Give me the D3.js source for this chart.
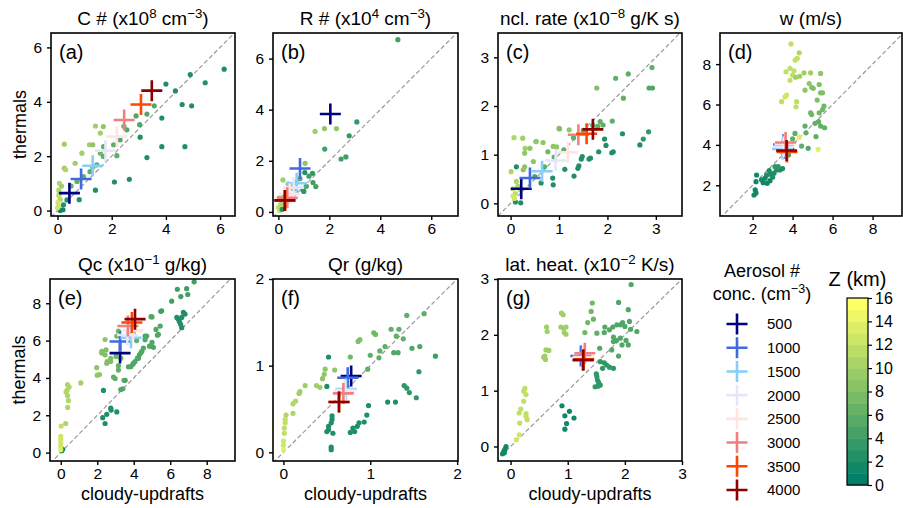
<!DOCTYPE html>
<html>
<head>
<meta charset="utf-8">
<script src="https://cdn.jsdelivr.net/npm/d3@7"></script>
<style>
  body { margin: 0; background: #fff; }
  svg { font-family: "Liberation Sans", Arial, sans-serif; }
</style>
</head>
<body>
<svg></svg>
<script>
// thermals vs cloudy-updrafts, one panel per variable

let width = 903,
    height = 508;

let svg = d3.select("svg")
    .attr("width", width)
    .attr("height", height);

let aerosolConc = [500, 1000, 1500, 2000, 2500, 3000, 3500, 4000];
let aerosolColors = ["#000080", "#4169e1", "#87cefa", "#e6e6fa", "#ffe4e1", "#f08080", "#ff4500", "#8b0000"];
let zTicks = [0, 2, 4, 6, 8, 10, 12, 14, 16];

// [cloudy-updrafts, thermals, Z km]
let pointsA = [
    [4.9,5.0,2],[4.0,4.65,2],[4.35,4.4,2],[5.45,4.7,2],[6.15,5.2,2],[4.6,3.9,2],[4.95,3.85,2],[3.85,3.4,2],
    [3.05,2.7,2],[3.85,2.35,2],[4.7,2.35,2],[3.3,1.95,2],[2.1,1.05,2],[2.65,1.15,2],[1.4,0.75,2],[0.8,0.4,2],
    [0.35,0.39,2],[0.2,0.03,1],[0.1,0.0,1],[0.22,0.21,2],
    [3.03,3.16,5],[2.9,3.48,5],[3.57,3.85,5],[2.56,2.97,5],[2.31,2.6,5],[2.19,2.02,6],[2.07,2.42,6],[1.7,2.35,6],
    [1.69,1.99,6],[1.45,1.68,6],[1.2,1.43,6],[0.96,1.25,6],[0.72,1.07,6],[0.5,0.9,6],[3.3,3.55,5],[2.45,3.1,6],
    [1.58,2.11,7],[1.3,1.6,6],
    [0.25,2.44,10],[1.4,3.11,10],[1.58,2.85,10],[1.69,3.09,9],[1.18,2.42,10],[1.3,2.42,9],[0.9,2.11,10],[0.65,1.74,10],
    [0.25,1.56,10],[0.3,1.5,11],[0.07,1.0,11],[0.05,0.75,11],[0.15,0.9,10],[0.1,0.4,11],[0.03,0.15,12],[0.06,0.6,11],
    [0.0,0.1,13],[0.02,0.3,13],[0.05,0.55,12]
];
let pointsB = [
    [4.69,6.74,4],[3.08,3.52,3],[2.78,2.98,3],[2.28,3.26,9],[1.81,3.26,9],[1.44,3.15,10],[1.82,2.46,4],[2.46,2.07,4],
    [2.65,2.15,4],[1.05,1.9,9],[1.04,1.54,2],[1.34,1.51,3],[1.2,1.4,4],[1.36,1.15,4],[1.47,0.99,4],[0.97,0.86,3],
    [1.0,0.8,3],[1.1,1.0,5],[0.18,1.25,10],[0.38,1.1,10],[0.55,1.05,9],[0.7,1.15,8],[0.04,0.55,11],[0.0,0.17,12],
    [0.05,0.05,12],[0.1,0.3,11],[0.2,0.6,10],[0.3,0.35,8],[0.15,0.1,2],[0.6,0.9,6],[0.85,1.3,6]
];
let pointsC = [
    [1.78,2.37,8],[2.17,2.57,6],[2.43,2.66,6],[2.33,2.16,6],[2.92,2.79,6],[2.86,2.37,5],[2.93,2.37,5],[2.1,1.69,6],
    [1.91,1.61,6],[1.8,1.58,6],
    [2.31,1.43,2],[2.85,1.47,3],[2.74,1.32,3],[2.67,1.2,2],[1.97,1.19,2],[1.82,1.06,2],[2.09,1.04,2],[2.12,1.06,2],
    [1.62,0.91,2],[1.48,0.96,2],[1.41,0.77,2],[1.31,0.56,2],[1.12,0.7,2],[0.88,0.38,2],[0.87,0.52,2],[0.63,0.42,2],
    [1.46,0.91,2],[1.65,0.93,2],[1.39,0.72,2],[1.94,1.32,2],[0.21,0.01,2],[0.1,0.03,2],[0.12,0.75,2],
    [1.0,1.54,9],[1.21,1.51,9],[0.88,1.17,9],[0.95,1.16,9],[0.52,1.27,10],[0.3,1.13,10],[0.07,1.35,11],[0.25,1.34,10],
    [0.53,1.27,9],[0.67,1.25,9],[0.4,1.13,9],[0.29,1.03,9],[0.47,0.86,9],[0.29,0.75,9],[0.01,0.65,11],[0.26,0.69,9],
    [0.77,1.06,7],[1.01,1.53,8],
    [0.05,0.3,12],[0.1,0.2,12],[0.05,0.15,13],[0.15,0.35,11],[0.08,0.1,13],[0.2,0.28,11],[0.12,0.45,11],
    [1.3,1.35,6],[1.5,1.5,6],[1.7,1.6,6],[1.85,1.68,6],[1.1,1.1,6],[0.9,0.95,6],[0.7,0.75,6],[0.5,0.55,5]
];
let pointsD = [
    [3.92,9.0,12],[4.33,8.56,11],[4.23,8.28,12],[4.13,8.2,12],[3.87,7.79,12],[3.67,7.62,12],[4.07,7.67,12],[4.0,7.45,12],
    [3.87,7.2,12],[3.62,6.38,13],[3.7,6.47,13],[3.45,6.14,12],[4.17,5.89,12],[4.2,6.14,12],[4.33,4.37,14],[5.28,3.78,14],
    [4.57,7.57,10],[4.9,7.57,10],[5.4,7.54,9],[4.35,7.4,10],[4.15,7.35,10],[4.83,7.04,9],[4.95,6.85,9],[4.62,6.71,9],
    [5.33,6.99,8],[5.03,6.8,8],[5.4,6.58,8],[5.5,6.58,8],[5.23,6.22,8],
    [5.57,5.92,7],[4.9,5.59,7],[4.95,5.5,7],[5.33,5.59,7],[5.5,5.75,7],[5.12,5.07,6],[5.3,5.15,6],[4.62,4.93,6],
    [5.4,4.93,6],[5.6,4.85,6],[4.67,4.6,6],[5.17,4.41,6],[4.12,4.57,6],[4.45,3.94,6],[4.78,3.83,5],[3.53,3.58,5],
    [3.8,3.5,5],[4.0,4.3,6],
    [3.37,2.76,2],[3.5,2.83,2],[3.2,2.76,2],[3.07,2.6,2],[2.83,2.73,2],[2.7,2.5,2],[2.62,2.35,1],[2.73,2.1,1],
    [2.87,2.23,1],[2.53,2.13,1],[2.45,2.27,1],[2.2,2.51,1],[2.17,2.18,1],[2.13,1.77,1],[2.07,1.52,1],[2.17,1.62,1],
    [3.12,2.92,3],[3.28,2.92,3],[2.9,2.55,2],[3.0,2.4,2]
];
let pointsE = [
    [7.31,9.15,4],[6.9,8.78,4],[6.39,8.75,4],[6.96,8.47,4],[6.58,8.36,4],[6.08,8.11,4],[5.53,7.6,4],[5.48,7.57,4],
    [5.0,7.27,5],[4.95,7.28,5],[5.45,6.78,5],[5.3,6.29,5],[5.22,6.6,5],[5.35,6.33,5],
    [6.72,7.51,2],[6.63,7.24,2],[6.36,7.24,2],[6.5,7.02,2],[6.57,6.87,2],[6.63,6.69,2],[6.81,7.42,2],[6.45,7.15,2],
    [4.62,6.05,5],[4.71,6.24,5],[4.99,5.69,5],[4.53,5.6,5],[4.86,5.7,5],[5.08,5.64,5],[4.44,5.42,5],[4.31,5.24,5],
    [4.2,5.06,5],[4.07,4.88,5],[3.95,4.73,5],[3.84,4.6,5],[4.38,5.33,5],[4.26,5.05,5],[3.98,4.78,5],[3.71,4.6,5],
    [3.16,4.65,6],[2.89,4.05,6],[3.53,3.87,5],[3.29,3.38,5],[3.47,3.87,5],[3.4,3.42,5],[2.98,3.97,6],[3.16,4.42,6],
    [3.29,5.06,7],[3.03,5.15,7],[2.74,4.88,8],[2.55,4.88,8],[2.43,5.24,8],[2.25,5.42,8],[2.43,6.06,9],[2.74,5.05,8],
    [2.52,4.78,8],[2.12,4.18,9],[1.97,4.55,9],[2.25,5.33,8],[2.48,5.5,8],[3.07,6.24,7],[3.16,6.51,7],[4.16,6.0,6],
    [3.98,6.42,10],[2.0,4.15,9],[4.62,6.24,5],[5.0,5.9,5],
    [1.1,3.73,10],
    [2.34,3.33,2],[2.74,2.38,2],[2.76,2.28,2],[3.07,2.18,2],[2.52,2.05,2],[2.3,1.87,2],[2.43,1.56,2],[0.1,0.18,1],[0.05,0.1,1],
    [0.37,3.64,11],[0.46,3.51,11],[0.29,3.24,11],[0.37,3.05,11],[0.42,2.78,11],[0.38,2.42,11],[0.27,1.56,11],[0.02,1.42,12],
    [0,0.87,13],[0,0.69,13],[0,0.51,13],[0,0.33,13],[0,0.15,14],[0.35,3.35,11]
];
let pointsF = [
    [1.62,1.6,6],[1.42,1.58,6],[1.24,1.42,6],[1.33,1.42,6],[1.3,1.34,6],[1.38,1.31,6],[1.04,1.38,7],[1.06,1.36,7],
    [1.17,1.22,6],[1.11,1.17,6],[1.27,1.15,5],[1.32,1.15,5],[1.48,1.2,5],[1.57,1.22,5],[1.0,1.12,6],[1.1,1.09,6],
    [0.88,1.3,8],[0.86,1.28,8],[1.75,1.11,4],[1.56,0.93,3],[0.77,1.1,7],[0.97,0.96,6],[0.52,1.1,2],[0.48,0.96,9],
    [0.59,0.95,9],[0.47,0.9,9],[0.45,0.85,9],[0.38,0.77,10],[0.42,0.75,10],[0.5,0.76,2],[0.25,0.77,10],[0.19,0.7,10],
    [0.18,0.68,10],[0.14,0.59,11],[0.11,0.56,11],[0.11,0.45,11],[0.03,0.43,11],[0.02,0.38,12],[0.02,0.34,12],[0.01,0.28,12],
    [0.01,0.22,12],[0,0.13,13],[0,0.08,13],[0,0.03,14],
    [1.39,0.77,3],[1.42,0.74,3],[1.45,0.69,3],[1.53,0.63,3],[1.2,0.58,2],[1.29,0.58,2],[0.98,0.54,2],[0.96,0.43,2],
    [0.93,0.35,2],[0.87,0.34,2],[0.85,0.3,2],[0.8,0.28,2],[0.82,0.24,2],[0.77,0.23,2],[0.56,0.42,2],[0.56,0.38,2],
    [0.55,0.34,2],[0.52,0.3,2],[0.52,0.26,2],[0.5,0.24,2],[0.57,0.22,2],[0.55,0.06,2],[0.55,0.03,2]
];
let pointsG = [
    [0.89,2.39,10],[0.92,2.36,10],[0.88,2.14,10],[0.93,2.12,10],[0.97,2.14,10],[0.94,2.04,10],[0.97,2.01,10],[0.63,2.14,10],
    [0.64,2.06,10],[0.62,1.73,10],[0.67,1.72,10],[0.6,1.62,10],[0.61,1.56,10],[0.58,1.6,10],
    [1.43,2.57,7],[1.41,2.42,7],[1.45,2.28,7],[1.35,2.22,7],[1.3,2.04,7],[1.51,2.03,6],
    [2.11,2.9,5],[1.89,2.58,5],[2.06,2.45,5],[2.08,2.24,5],[1.96,2.22,5],[1.92,2.18,5],[2.0,2.15,5],[1.86,2.18,5],
    [1.79,2.14,5],[1.73,2.09,5],[1.65,2.14,5],[2.21,2.06,5],[2.1,2.1,5],[1.64,2.04,5],[1.8,1.96,5],[1.92,1.94,5],
    [2.02,1.9,5],[2.06,1.82,5],[1.85,1.9,5],[1.95,1.82,5],[1.8,1.88,5],[1.77,1.73,5],[1.56,1.76,5],[1.89,1.62,5],
    [1.57,1.52,3],[1.64,1.5,3],[1.68,1.46,3],[1.73,1.42,3],[1.8,1.4,3],[1.61,1.4,3],[1.51,1.25,3],[1.52,1.19,3],
    [1.54,1.15,3],[1.57,1.1,3],[1.48,1.07,3],[1.53,1.08,3],[1.5,1.3,3],
    [0.25,1.04,12],[0.23,0.99,12],[0.27,0.93,12],[0.23,0.81,12],[0.18,0.67,12],[0.15,0.6,12],[0.27,0.59,12],[0.27,0.54,12],
    [0.29,0.48,12],[0.16,0.42,12],[0.15,0.21,13],[0.1,0.12,13],
    [0.9,0.73,1],[1.03,0.63,1],[0.95,0.55,1],[1.11,0.51,1],[0.98,0.41,1],[0.95,0.31,1],
    [-0.08,0.0,1],[-0.12,-0.09,1],[-0.1,-0.05,1],[-0.14,-0.13,1],[-0.11,-0.11,1]
];

// domain means per aerosol concentration [cloudy-updrafts, thermals]
let meansA = [[0.44,0.64],[0.87,1.16],[1.3,1.65],[1.77,2.2],[2.19,2.72],[2.46,3.33],[3.08,3.9],[3.48,4.41]];
let meansB = [[2.04,3.83],[0.85,1.7],[0.72,1.12],[0.6,0.95],[0.45,0.7],[0.35,0.55],[0.27,0.45],[0.25,0.45]];
let meansC = [[0.22,0.3],[0.4,0.52],[0.65,0.66],[0.93,0.88],[1.18,1.05],[1.4,1.41],[1.57,1.43],[1.7,1.52]];
let meansD = [[3.55,3.85],[3.55,4.02],[3.5,3.8],[3.55,3.9],[3.62,4.05],[3.65,4.12],[3.72,3.65],[3.7,3.72]];
let meansE = [[3.25,5.33],[3.25,5.95],[3.85,6.15],[3.65,6.3],[3.95,6.55],[3.68,6.78],[3.9,6.97],[4.07,7.15]];
let meansF = [[0.78,0.88],[0.74,0.86],[0.72,0.73],[0.71,0.72],[0.7,0.7],[0.69,0.68],[0.64,0.58],[0.64,0.58]];
let meansG = [[1.27,1.55],[1.23,1.62],[1.27,1.6],[1.27,1.58],[1.27,1.6],[1.3,1.67],[1.28,1.56],[1.27,1.55]];

let panels = [
    {label: "(a)", title: "C # (x10^{8} cm^{−3})", pts: pointsA, means: meansA,
     box: [51, 33, 184, 183], xDom: [-0.24, 6.55], yDom: [-0.2, 6.53], xTicks: [0,2,4,6], yTicks: [0,2,4,6]},
    {label: "(b)", title: "R # (x10^{4} cm^{−3})", pts: pointsB, means: meansB,
     box: [273, 33, 185, 183], xDom: [-0.21, 7.05], yDom: [-0.16, 7.0], xTicks: [0,2,4,6], yTicks: [0,2,4,6]},
    {label: "(c)", title: "ncl. rate (x10^{−8} g/K s)", pts: pointsC, means: meansC,
     box: [498, 33, 184, 183], xDom: [-0.26, 3.54], yDom: [-0.26, 3.5], xTicks: [0,1,2,3], yTicks: [0,1,2,3]},
    {label: "(d)", title: "w (m/s)", pts: pointsD, means: meansD,
     box: [720, 33, 182, 183], xDom: [0.37, 9.47], yDom: [0.48, 9.54], xTicks: [2,4,6,8], yTicks: [2,4,6,8]},
    {label: "(e)", title: "Qc (x10^{−1} g/kg)", pts: pointsE, means: meansE,
     box: [50, 279, 185, 182], xDom: [-0.59, 9.55], yDom: [-0.45, 9.3], xTicks: [0,2,4,6,8], yTicks: [0,2,4,6,8]},
    {label: "(f)", title: "Qr (g/kg)", pts: pointsF, means: meansF,
     box: [273, 279, 185, 182], xDom: [-0.12, 2.01], yDom: [-0.1, 2.0], xTicks: [0,1,2], yTicks: [0,1,2]},
    {label: "(g)", title: "lat. heat. (x10^{−2} K/s)", pts: pointsG, means: meansG,
     box: [498, 279, 184, 182], xDom: [-0.22, 3.0], yDom: [-0.26, 3.0], xTicks: [0,1,2,3], yTicks: [0,1,2,3]}
];

// matplotlib "summer"
function summer(t) {
    t = Math.max(0, Math.min(1, t));
    return d3.rgb(255 * t, 255 * (0.5 + 0.5 * t), 102).formatHex();
}
let zScale = d3.scaleLinear().domain([0, 16]).range([0, 1]);

// text with ^{...} superscripts
function richText(sel, str, size) {
    let parts = str.split(/\^\{([^}]*)\}/);
    let raised = false;
    parts.forEach((p, i) => {
        if (p === "") return;
        let t = sel.append("tspan").text(p);
        if (i % 2 === 1) {
            t.attr("font-size", size * 0.7).attr("dy", -size * 0.38);
            raised = true;
        } else if (raised) {
            t.attr("dy", size * 0.38);
            raised = false;
        }
    });
}

let plusPath = "M-10.5,0H10.5M0,-10.5V10.5";

panels.forEach((p, idx) => {
    let [bx, by, bw, bh] = p.box;
    let x = d3.scaleLinear().domain(p.xDom).range([0, bw]);
    let y = d3.scaleLinear().domain(p.yDom).range([bh, 0]);
    let g = svg.append("g").attr("transform", `translate(${bx},${by})`);

    g.append("clipPath").attr("id", "clip" + idx)
        .append("rect").attr("width", bw).attr("height", bh);
    let inner = g.append("g").attr("clip-path", `url(#clip${idx})`);

    // 1:1 line
    let lo = Math.min(p.xDom[0], p.yDom[0]), hi = Math.max(p.xDom[1], p.yDom[1]);
    inner.append("line")
        .attr("x1", x(lo)).attr("y1", y(lo))
        .attr("x2", x(hi)).attr("y2", y(hi))
        .attr("stroke", "#999").attr("stroke-width", 1.2)
        .attr("stroke-dasharray", "4.5,2.5");

    inner.selectAll("circle")
        .data(p.pts)
        .enter().append("circle")
        .attr("cx", d => x(d[0]))
        .attr("cy", d => y(d[1]))
        .attr("r", 2.6)
        .attr("fill", d => summer(zScale(d[2])));

    inner.selectAll("path.mean")
        .data(p.means)
        .enter().append("path")
        .attr("class", "mean")
        .attr("d", plusPath)
        .attr("transform", d => `translate(${x(d[0])},${y(d[1])})`)
        .attr("stroke", (d, i) => aerosolColors[i])
        .attr("stroke-width", 2.6)
        .attr("fill", "none");

    let xAxis = g.append("g").attr("transform", `translate(0,${bh})`)
        .call(d3.axisBottom(x).tickValues(p.xTicks).tickSize(4).tickPadding(3).tickFormat(d3.format("d")));
    let yAxis = g.append("g")
        .call(d3.axisLeft(y).tickValues(p.yTicks).tickSize(4).tickPadding(5).tickFormat(d3.format("d")));
    [xAxis, yAxis].forEach(a => {
        a.select(".domain").remove();
        a.selectAll("line").attr("stroke", "#000").attr("stroke-width", 1.4);
        a.selectAll("text").attr("font-size", 15.5).attr("fill", "#000")
            .attr("font-family", "Liberation Sans, Arial, sans-serif");
    });

    g.append("rect").attr("width", bw).attr("height", bh)
        .attr("fill", "none").attr("stroke", "#000").attr("stroke-width", 1.6);

    g.append("text").attr("x", 8).attr("y", 26)
        .attr("font-size", 20).text(p.label);

    let title = g.append("text").attr("x", bw / 2).attr("y", -8)
        .attr("text-anchor", "middle").attr("font-size", 19);
    richText(title, p.title, 19);

    if (idx === 0 || idx === 4) {
        g.append("text")
            .attr("transform", `translate(-25,${bh / 2}) rotate(-90)`)
            .attr("text-anchor", "middle").attr("font-size", 18)
            .text("thermals");
    }
    if (idx >= 4) {
        g.append("text").attr("x", bw / 2).attr("y", bh + 38.5)
            .attr("text-anchor", "middle").attr("font-size", 18)
            .text("cloudy-updrafts");
    }
});

// aerosol legend
let leg = svg.append("g").attr("transform", "translate(737,0)");
leg.append("text").attr("x", 25).attr("y", 277).attr("text-anchor", "middle")
    .attr("font-size", 18).text("Aerosol #");
let legTitle2 = leg.append("text").attr("x", 25).attr("y", 300).attr("text-anchor", "middle")
    .attr("font-size", 18);
richText(legTitle2, "conc. (cm^{−3})", 18);

let legY = d3.scalePoint().domain(aerosolConc).range([324, 490]);
leg.selectAll("path.leg")
    .data(aerosolConc)
    .enter().append("path")
    .attr("class", "leg")
    .attr("d", plusPath)
    .attr("transform", d => `translate(0,${legY(d)})`)
    .attr("stroke", (d, i) => aerosolColors[i])
    .attr("stroke-width", 2.6)
    .attr("fill", "none");
leg.selectAll("text.leg")
    .data(aerosolConc)
    .enter().append("text")
    .attr("class", "leg")
    .attr("x", 30)
    .attr("y", d => legY(d))
    .attr("dy", "0.36em")
    .attr("font-size", 15)
    .text(d => d);

// Z colorbar
let cbX = 847, cbW = 21, cbTop = 298, cbBot = 485;
let cbScale = d3.scaleLinear().domain([0, 16]).range([cbBot, cbTop]);
let cb = svg.append("g");
cb.selectAll("rect.band")
    .data(d3.range(16))
    .enter().append("rect")
    .attr("class", "band")
    .attr("x", cbX)
    .attr("y", d => cbScale(d + 1))
    .attr("width", cbW)
    .attr("height", d => cbScale(d) - cbScale(d + 1) + 0.5)
    .attr("fill", d => summer(d / 15));
cb.append("rect").attr("x", cbX).attr("y", cbTop).attr("width", cbW).attr("height", cbBot - cbTop)
    .attr("fill", "none").attr("stroke", "#000").attr("stroke-width", 1.2);
let cbAxis = cb.append("g").attr("transform", `translate(${cbX + cbW},0)`)
    .call(d3.axisRight(cbScale).tickValues(zTicks).tickSize(4).tickPadding(3));
cbAxis.select(".domain").remove();
cbAxis.selectAll("line").attr("stroke", "#000").attr("stroke-width", 1.2);
cbAxis.selectAll("text").attr("font-size", 16).attr("fill", "#000")
    .attr("font-family", "Liberation Sans, Arial, sans-serif");
cb.append("text").attr("x", cbX + cbW / 2).attr("y", 286).attr("text-anchor", "middle")
    .attr("font-size", 20).text("Z (km)");
</script>
</body>
</html>
